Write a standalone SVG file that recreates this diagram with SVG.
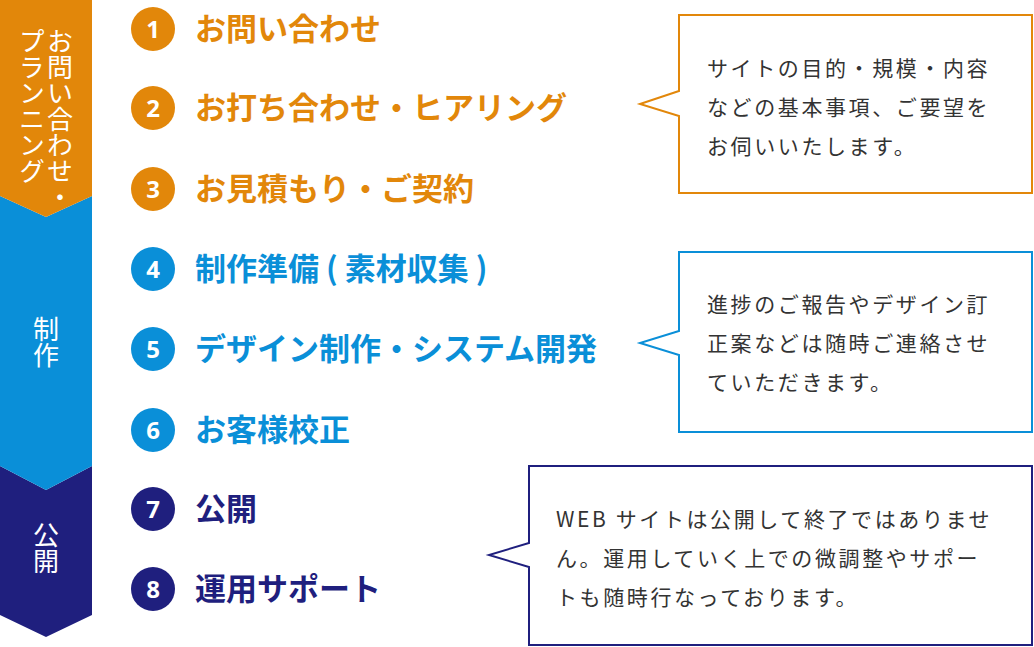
<svg xmlns="http://www.w3.org/2000/svg" width="1034" height="647" viewBox="0 0 1034 647">
<style>
.side{font-family:"Noto Sans CJK JP","Noto Sans",sans-serif;font-size:26px;fill:#fff}
.num{font-family:"Noto Sans","Liberation Sans",sans-serif;font-size:24px;font-weight:bold;fill:#fff;text-anchor:middle}
.lbl{font-family:"Noto Sans CJK JP",sans-serif;font-size:31px;font-weight:bold}
.txt{font-family:"Noto Sans CJK JP",sans-serif;font-size:21px;fill:#333;letter-spacing:2.6px}
.o{fill:#E2870A}.b{fill:#0A8FD8}.n{fill:#1F1F7E}
.bub{fill:#fff;stroke-width:2}
</style>
<g id="phase-bar">
<polygon points="0,466 46,490 92,466 92,615 46,637 0,615" class="n"/>
<polygon points="0,196 46,217 92,196 92,466 46,490 0,466" class="b"/>
<polygon points="0,0 92,0 92,196 46,217 0,196" class="o"/>
<text class="side" x="60" y="28" style="writing-mode:vertical-rl">お問い合わせ・</text>
<text class="side" x="32" y="28" style="writing-mode:vertical-rl">プランニング</text>
<text class="side" x="46" y="316" style="writing-mode:vertical-rl">制作</text>
<text class="side" x="46" y="522" style="writing-mode:vertical-rl">公開</text>
</g>
<g id="step1"><circle cx="153" cy="29" r="22" class="o"/><text class="num" x="153" y="38">1</text><text class="lbl o" x="195" y="40">お問い合わせ</text></g>
<g id="step2"><circle cx="153" cy="108" r="22" class="o"/><text class="num" x="153" y="117">2</text><text class="lbl o" x="195" y="119">お打ち合わせ・ヒアリング</text></g>
<g id="step3"><circle cx="153" cy="189" r="22" class="o"/><text class="num" x="153" y="198">3</text><text class="lbl o" x="195" y="200">お見積もり・ご契約</text></g>
<g id="step4"><circle cx="153" cy="269" r="22" class="b"/><text class="num" x="153" y="278">4</text><text class="lbl b" x="195" y="280">制作準備 ( 素材収集 )</text></g>
<g id="step5"><circle cx="153" cy="349" r="22" class="b"/><text class="num" x="153" y="358">5</text><text class="lbl b" x="195" y="360">デザイン制作・システム開発</text></g>
<g id="step6"><circle cx="153" cy="430" r="22" class="b"/><text class="num" x="153" y="439">6</text><text class="lbl b" x="195" y="441">お客様校正</text></g>
<g id="step7"><circle cx="153" cy="509" r="22" class="n"/><text class="num" x="153" y="518">7</text><text class="lbl n" x="195" y="520">公開</text></g>
<g id="step8"><circle cx="153" cy="589" r="22" class="n"/><text class="num" x="153" y="598">8</text><text class="lbl n" x="195" y="600">運用サポート</text></g>
<g id="bubble1">
<path class="bub" stroke="#E2870A" d="M679,15 H1032 V193 H679 V116 L640,104 L679,91 Z"/>
<text class="txt" x="707" y="76">サイトの目的・規模・内容</text>
<text class="txt" x="707" y="115">などの基本事項、ご要望を</text>
<text class="txt" x="707" y="154">お伺いいたします。</text>
</g>
<g id="bubble2">
<path class="bub" stroke="#0A8FD8" d="M679,252 H1032 V432 H679 V355 L640,343 L679,331 Z"/>
<text class="txt" x="707" y="312">進捗のご報告やデザイン訂</text>
<text class="txt" x="707" y="351">正案などは随時ご連絡させ</text>
<text class="txt" x="707" y="390">ていただきます。</text>
</g>
<g id="bubble3">
<path class="bub" stroke="#1F1F7E" d="M529,466 H1032 V645 H529 V567 L489,555 L529,543 Z"/>
<text class="txt" x="556" y="527">WEB サイトは公開して終了ではありませ</text>
<text class="txt" x="556" y="566">ん。運用していく上での微調整やサポー</text>
<text class="txt" x="556" y="605">トも随時行なっております。</text>
</g>
<g id="connectors"/>
</svg>
